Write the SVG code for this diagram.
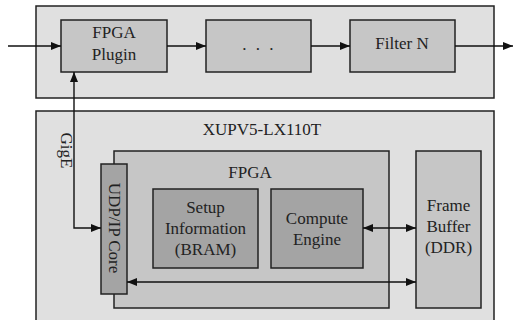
<svg xmlns="http://www.w3.org/2000/svg" width="515" height="320" viewBox="0 0 515 320">
<defs>
<style>
.outer{fill:#e0e0e0;stroke:#222;stroke-width:1.5}
.mid{fill:#c6c6c6;stroke:#222;stroke-width:1.5}
.dark{fill:#a4a4a4;stroke:#222;stroke-width:1.5}
text{font-family:"Liberation Serif","Times New Roman",serif;font-size:17px;fill:#222;text-anchor:middle}
.conn{fill:none;stroke:#111;stroke-width:1.4}
</style>
<marker id="ah" viewBox="0 0 10 8" refX="10" refY="4" markerWidth="10" markerHeight="8" markerUnits="userSpaceOnUse" orient="auto-start-reverse">
<path d="M0,0 L10,4 L0,8 Z" fill="#111"/>
</marker>
</defs>
<g id="host">
<rect class="outer" x="36" y="6" width="458" height="92"/>
</g>
<g id="board">
<rect class="outer" x="36" y="111" width="458" height="220"/>
<text x="262" y="135">XUPV5-LX110T</text>
</g>
<g id="fpga">
<rect class="mid" x="114" y="151" width="275" height="157"/>
<text x="250" y="178">FPGA</text>
</g>
<g id="plugin">
<rect class="mid" x="61" y="20" width="106" height="52"/>
<text x="114" y="38">FPGA</text>
<text x="114" y="60">Plugin</text>
</g>
<g id="dots">
<rect class="mid" x="206" y="20" width="105" height="52"/>
<text x="259" y="50" style="letter-spacing:2.5px">. . .</text>
</g>
<g id="filter">
<rect class="mid" x="350" y="20" width="105" height="52"/>
<text x="402" y="49">Filter N</text>
</g>
<g id="udp">
<rect class="dark" x="101" y="164" width="26" height="130"/>
<text transform="translate(108.5,228) rotate(90)">UDP/IP Core</text>
</g>
<g id="setup">
<rect class="dark" x="153" y="189" width="105" height="79"/>
<text x="205.5" y="213">Setup</text>
<text x="205.5" y="234">Information</text>
<text x="205.5" y="255">(BRAM)</text>
</g>
<g id="compute">
<rect class="dark" x="271" y="189" width="92" height="79"/>
<text x="317" y="224">Compute</text>
<text x="317" y="245">Engine</text>
</g>
<g id="framebuffer">
<rect class="mid" x="416" y="151" width="65" height="157"/>
<text x="448.5" y="211">Frame</text>
<text x="448.5" y="232">Buffer</text>
<text x="448.5" y="253">(DDR)</text>
</g>
<g id="connectors">
<line class="conn" x1="8" y1="46" x2="61" y2="46" marker-end="url(#ah)"/>
<line class="conn" x1="167" y1="46" x2="206" y2="46" marker-end="url(#ah)"/>
<line class="conn" x1="311" y1="46" x2="350" y2="46" marker-end="url(#ah)"/>
<line class="conn" x1="455" y1="46" x2="513" y2="46" marker-end="url(#ah)"/>
<path class="conn" d="M101,228 H74 V72" marker-start="url(#ah)" marker-end="url(#ah)"/>
<line class="conn" x1="363" y1="228" x2="416" y2="228" marker-start="url(#ah)" marker-end="url(#ah)"/>
<line class="conn" x1="127" y1="282" x2="416" y2="282" marker-start="url(#ah)" marker-end="url(#ah)"/>
<text transform="translate(60.5,150.5) rotate(90)">GigE</text>
</g>
</svg>
